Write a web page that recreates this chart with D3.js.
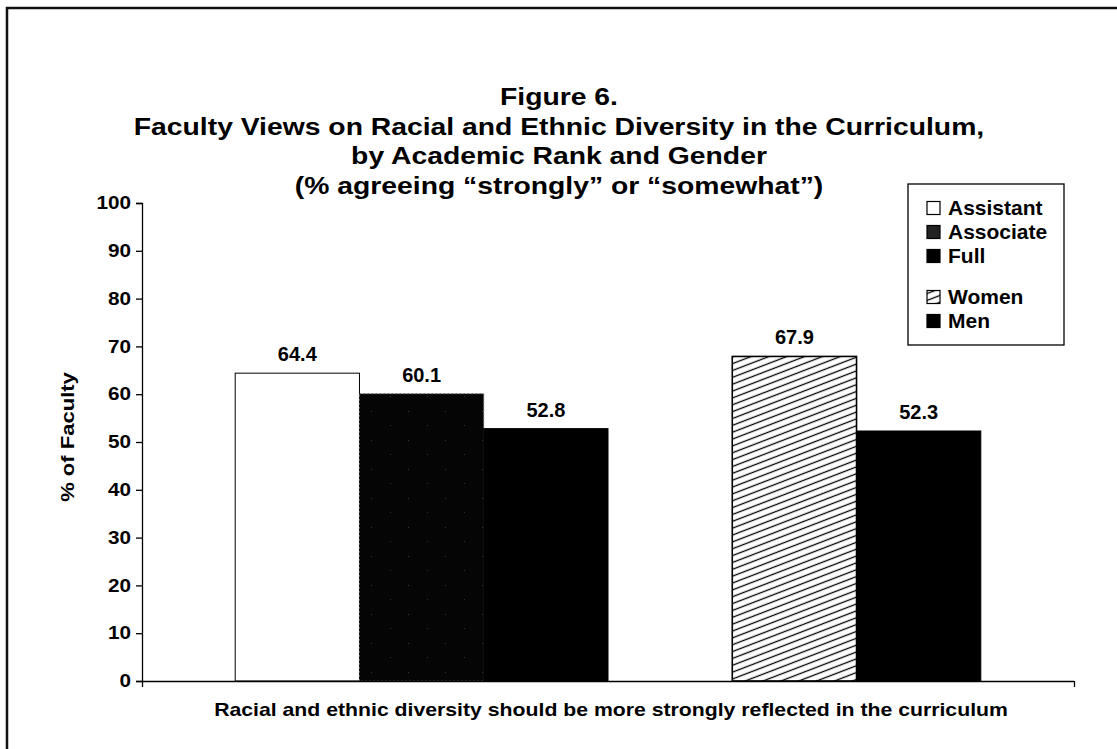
<!DOCTYPE html>
<html>
<head>
<meta charset="utf-8">
<script src="https://cdn.jsdelivr.net/npm/d3@7"></script>
<style>
  body { margin: 0; background: #fff; }
  svg { display: block; }
  text { font-family: "Liberation Sans", Arial, Helvetica, sans-serif; font-weight: bold; fill: #000; }
</style>
</head>
<body>
<div id="chart"></div>
<script>
// Figure 6 - faculty views on diversity in the curriculum

const titleLines = [
  "Figure 6.",
  "Faculty Views on Racial and Ethnic Diversity in the Curriculum,",
  "by Academic Rank and Gender",
  "(% agreeing \u201cstrongly\u201d or \u201csomewhat\u201d)"
];
const categoryLabel = "Racial and ethnic diversity should be more strongly reflected in the curriculum";
const groups = ["Assistant", "Associate", "Full", "", "Women", "Men"];
const values = [64.4, 60.1, 52.8, null, 67.9, 52.3];
const yTicks = [0, 10, 20, 30, 40, 50, 60, 70, 80, 90, 100];
const legendRank = ["Assistant", "Associate", "Full"];
const legendGender = ["Women", "Men"];

const width = 1117, height = 749;
const margin = { top: 203, right: 43, bottom: 68, left: 142 };
const innerW = width - margin.left - margin.right;
const innerH = height - margin.top - margin.bottom;

// the scanned type is wider than Arial, so stretch text horizontally
const placeText = (x, y, sx) => `translate(${x},${y}) scale(${sx},1)`;

const svg = d3.select("#chart").append("svg")
  .attr("width", width)
  .attr("height", height);

// patterns
const defs = svg.append("defs");
const hatch = defs.append("pattern")
  .attr("id", "hatch")
  .attr("patternUnits", "userSpaceOnUse")
  .attr("width", 6.4).attr("height", 6.4)
  .attr("patternTransform", "rotate(-21)");
hatch.append("rect").attr("width", 6.4).attr("height", 6.4).attr("fill", "#fff");
hatch.append("line").attr("x1", 0).attr("y1", 3.2).attr("x2", 6.4).attr("y2", 3.2)
  .attr("stroke", "#000").attr("stroke-width", 1.3);

const speckle = defs.append("pattern")
  .attr("id", "speckle")
  .attr("patternUnits", "userSpaceOnUse")
  .attr("width", 37).attr("height", 29);
speckle.append("rect").attr("width", 37).attr("height", 29).attr("fill", "#050505");
speckle.append("rect").attr("x", 7).attr("y", 5).attr("width", 1).attr("height", 1).attr("fill", "#3a3a3a");
speckle.append("rect").attr("x", 26).attr("y", 19).attr("width", 1).attr("height", 1).attr("fill", "#333");

const fills = {
  Assistant: "#fff",
  Associate: "url(#speckle)",
  Full: "#000",
  Women: "url(#hatch)",
  Men: "#000"
};
const swatchFills = {
  Assistant: "#fff",
  Associate: "#222",
  Full: "#000",
  Women: "url(#hatch)",
  Men: "#000"
};

// page frame
svg.append("path")
  .attr("d", "M7,749 V8 H1117")
  .attr("fill", "none")
  .attr("stroke", "#111")
  .attr("stroke-width", 2.5);

// title
svg.append("g").selectAll("text")
  .data(titleLines)
  .join("text")
  .attr("transform", (d, i) => placeText(559, 105 + i * 29.7, 1.18))
  .attr("text-anchor", "middle")
  .attr("font-size", 24)
  .text(d => d);

const g = svg.append("g").attr("transform", `translate(${margin.left},${margin.top})`);

const x = d3.scaleBand()
  .domain(groups.map((d, i) => i))
  .range([0, innerW])
  .paddingInner(0)
  .paddingOuter(0.75);

const y = d3.scaleLinear().domain([0, 100]).range([innerH, 0]);

// bars
const barData = groups.map((name, i) => ({ name, i, value: values[i] })).filter(d => d.value != null);

g.selectAll("rect.bar")
  .data(barData)
  .join("rect")
  .attr("class", "bar")
  .attr("x", d => x(d.i))
  .attr("y", d => y(d.value))
  .attr("width", x.bandwidth())
  .attr("height", d => y(0) - y(d.value))
  .attr("fill", d => fills[d.name])
  .attr("stroke", d => d.name === "Associate" ? "#666" : "#000")
  .attr("stroke-dasharray", d => d.name === "Associate" ? "2,2" : null)
  .attr("stroke-width", d => d.name === "Women" ? 1.6 : 1);

g.selectAll("text.val")
  .data(barData)
  .join("text")
  .attr("class", "val")
  .attr("x", d => x(d.i) + x.bandwidth() / 2)
  .attr("y", d => y(d.value) - 12)
  .attr("text-anchor", "middle")
  .attr("font-size", 20)
  .text(d => d.value.toFixed(1));

// y axis
const yAxis = g.append("g")
  .call(d3.axisLeft(y).tickValues(yTicks).tickSize(6).tickPadding(5));
yAxis.select(".domain").attr("stroke", "#000").attr("stroke-width", 1.3);
yAxis.selectAll(".tick line").attr("stroke", "#000").attr("stroke-width", 1.3);
yAxis.selectAll(".tick text")
  .attr("x", null)
  .attr("transform", placeText(-11, 0, 1.15))
  .attr("font-size", 18)
  .attr("font-family", "\"Liberation Sans\", Arial, Helvetica, sans-serif")
  .attr("font-weight", "bold");

// x axis: only end ticks
const xEdge = d3.scaleLinear().domain([0, 1]).range([0, innerW]);
const xAxis = g.append("g")
  .attr("transform", `translate(0,${innerH})`)
  .call(d3.axisBottom(xEdge).tickValues([0, 1]).tickSize(6).tickSizeOuter(0).tickFormat(""));
xAxis.select(".domain").attr("stroke", "#000").attr("stroke-width", 1.6);
xAxis.selectAll(".tick line").attr("stroke", "#000").attr("stroke-width", 1.3);

// axis titles
svg.append("text")
  .attr("transform", "translate(74,437) rotate(-90) scale(1.16,1)")
  .attr("text-anchor", "middle")
  .attr("font-size", 19)
  .text("% of Faculty");

svg.append("text")
  .attr("transform", placeText(margin.left + innerW / 2 + 3, 716, 1.18))
  .attr("text-anchor", "middle")
  .attr("font-size", 18)
  .text(categoryLabel);

// legend
const legend = svg.append("g").attr("transform", "translate(908,184)");
legend.append("rect")
  .attr("width", 156).attr("height", 161)
  .attr("fill", "#fff").attr("stroke", "#000").attr("stroke-width", 1.3);

const legendItems = legendRank.map((d, i) => ({ name: d, cy: 24 + i * 24 }))
  .concat(legendGender.map((d, i) => ({ name: d, cy: 113 + i * 24 })));

const li = legend.selectAll("g.item")
  .data(legendItems)
  .join("g")
  .attr("class", "item")
  .attr("transform", d => `translate(19,${d.cy})`);
li.append("rect")
  .attr("x", 0).attr("y", -6.5)
  .attr("width", 13).attr("height", 13)
  .attr("fill", d => swatchFills[d.name])
  .attr("stroke", "#000").attr("stroke-width", 1.2);
li.append("text")
  .attr("transform", placeText(21, 7, 1.05))
  .attr("font-size", 20)
  .text(d => d.name);
</script>
</body>
</html>
